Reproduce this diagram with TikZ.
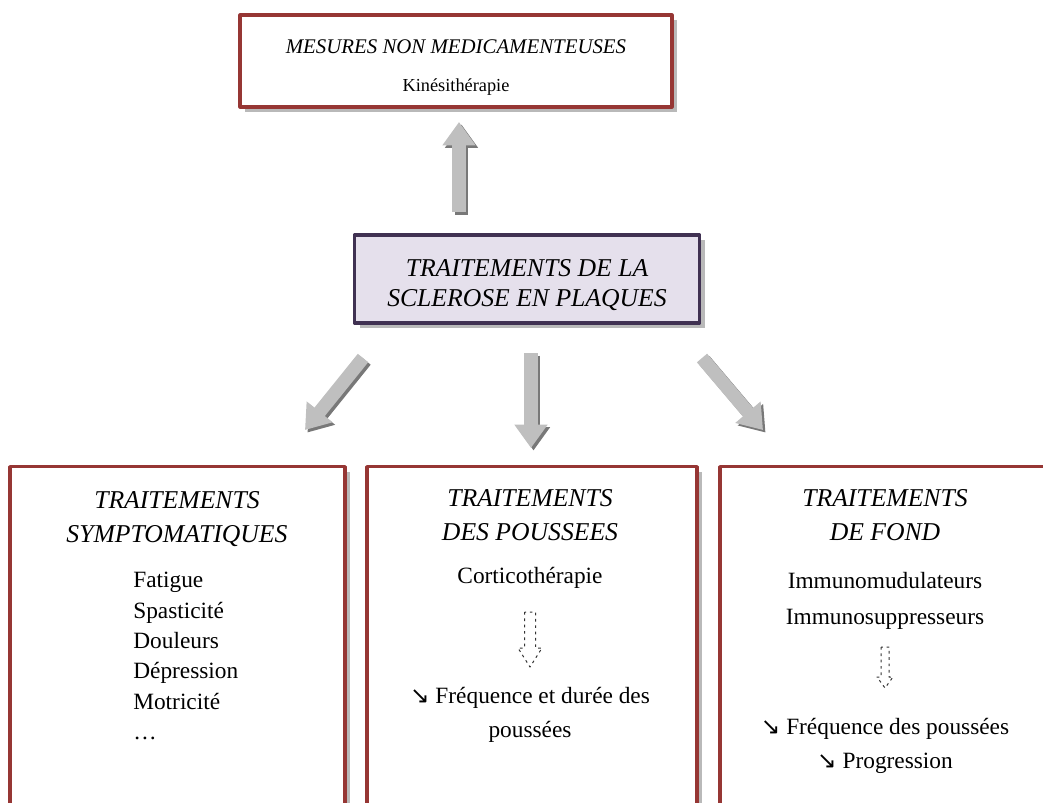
\documentclass[tikz,border=0pt]{standalone}
\usepackage{fontspec}
\setmainfont{Liberation Serif}
\newfontfamily\arrowfont{DejaVu Sans}
\usetikzlibrary{arrows.meta,shadows}
\definecolor{boxred}{RGB}{150,54,52}
\definecolor{boxpurple}{RGB}{64,49,82}
\definecolor{lavender}{RGB}{229,224,236}
\definecolor{arrowgray}{RGB}{191,191,191}
\definecolor{arrowshade}{RGB}{120,120,120}
\newcommand{\baisse}{{\arrowfont\char"2198}}
\tikzset{
  redbox/.style={draw=boxred, line width=1.9pt, fill=white, inner sep=0pt,
    drop shadow={shadow xshift=3pt, shadow yshift=-3pt, fill=black!55}},
  purplebox/.style={draw=boxpurple, line width=1.9pt, fill=lavender, inner sep=0pt,
    drop shadow={shadow xshift=3pt, shadow yshift=-3pt, fill=black!55}},
  bigarrow/.style={draw=arrowgray, line width=8pt, -{Triangle[width=19pt,length=14pt]}},
  bigshade/.style={draw=arrowshade, line width=8pt, -{Triangle[width=19pt,length=14pt]},
    transform canvas={shift={(1.5pt,-1.5pt)}}},
  hollowarrow/.style={draw=black!80, line width=0.6pt, dash pattern=on 1.6pt off 2.2pt},
  titre/.style={align=center, inner sep=0pt, font=\fontsize{15.4}{20}\selectfont\itshape},
  corps/.style={align=center, inner sep=0pt, font=\fontsize{14}{20.5}\selectfont},
}
\begin{document}
\begin{tikzpicture}[x=0.6pt, y=-0.6pt, line join=round, >=stealth]
	\useasboundingbox (0,0) rectangle (1043,802);
	\clip (0,0) rectangle (1043,802);
	% boxes
	\node[redbox, minimum width=259.2pt, minimum height=55.2pt, align=center] (mesures) at (456,61)
		{{\fontsize{12.5}{15}\selectfont\itshape\rule{0pt}{16pt}MESURES NON MEDICAMENTEUSES}\\[11pt]
		 {\fontsize{11}{13}\selectfont Kinésithérapie}};
	\node[purplebox, minimum width=207pt, minimum height=52.8pt, align=center,
		font=\fontsize{15.4}{18}\selectfont\itshape] (centre) at (527,279)
		{\rule{0pt}{18pt}TRAITEMENTS DE LA\\SCLEROSE EN PLAQUES};
	\node[redbox, anchor=north, minimum width=201pt, minimum height=216pt] (symp) at (177.5,465) {};
	\node[redbox, anchor=north, minimum width=198pt, minimum height=216pt] (pousse) at (532,465) {};
	\node[redbox, anchor=north, minimum width=198pt, minimum height=216pt] (fond) at (885,465) {};
	% big grey arrows
	\coordinate (upS) at (459,212);   \coordinate (upE) at (459,122);
	\coordinate (leftS) at (363,358); \coordinate (leftE) at (305,430);
	\coordinate (midS) at (531,353);  \coordinate (midE) at (531,448);
	\coordinate (rightS) at (702,358); \coordinate (rightE) at (763,430);
	\foreach \s/\e in {upS/upE, leftS/leftE, midS/midE, rightS/rightE}{
		\draw[bigshade] (\s) -- (\e);
		\draw[bigarrow] (\s) -- (\e);
	}
	% symptomatiques
	\node[titre] (sympT) at (177,519) {TRAITEMENTS\\SYMPTOMATIQUES};
	\node[corps, align=left, anchor=north west, font=\fontsize{14}{18.2}\selectfont] (sympL) at (133,572)
		{Fatigue\\Spasticité\\Douleurs\\Dépression\\Motricité\\…};
	% poussees
	\node[titre] (pousseT) at (530,515) {TRAITEMENTS\\DES POUSSEES};
	\node[corps] (cortico) at (530,578) {Corticothérapie};
	\draw[hollowarrow] (524.5,612) -- (524.5,648) -- (518,648) -- (530,667) -- (542,648)
		-- (535.5,648) -- (535.5,612) -- cycle;
	\node[corps] (pousseR) at (530,715) {\baisse{} Fréquence et durée des\\poussées};
	% fond
	\node[titre] (fondT) at (885,515) {TRAITEMENTS\\DE FOND};
	\node[corps, font=\fontsize{14}{22}\selectfont] (immuno) at (885,601) {Immunomudulateurs\\Immunosuppresseurs};
	\draw[hollowarrow] (881,647) -- (881,677) -- (877,677) -- (885,688) -- (893,677)
		-- (889,677) -- (889,647) -- cycle;
	\node[corps, font=\fontsize{14}{20}\selectfont] (fondR) at (885,746) {\baisse{} Fréquence des poussées\\\baisse{} Progression};
\end{tikzpicture}
\end{document}
